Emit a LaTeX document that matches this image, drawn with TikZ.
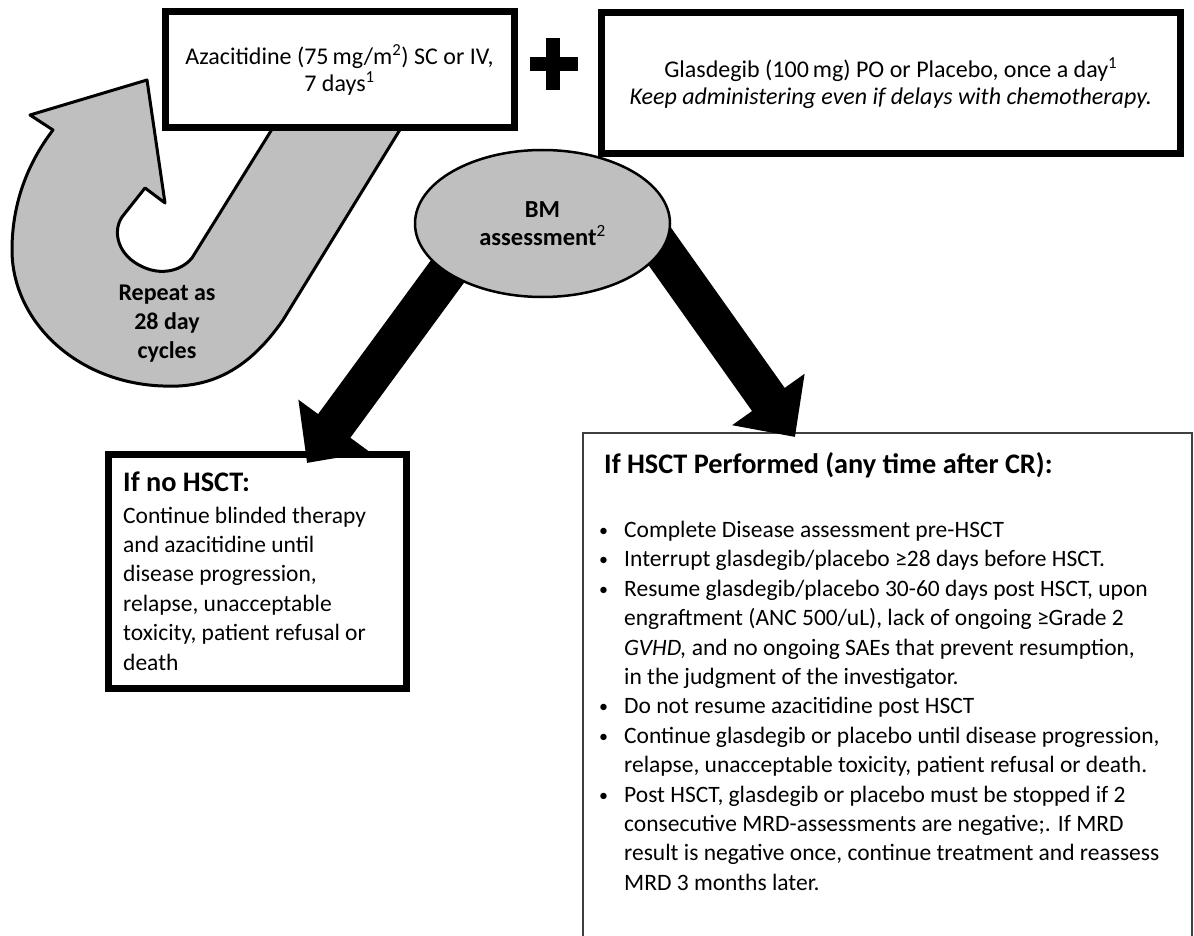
\documentclass[tikz,border=0pt]{standalone}
\usepackage{fontspec}
\setmainfont{Carlito}
\usetikzlibrary{arrows.meta,shapes.geometric,positioning}
\definecolor{cyclegray}{RGB}{191,191,191}
\definecolor{panelline}{RGB}{64,64,64}
\newcommand{\bul}{\llap{\raisebox{1pt}{\fontsize{18}{18}\selectfont\textbullet}\hspace{16pt}}}

\begin{document}
\begin{tikzpicture}[x=1pt,y=-1pt,
    block/.style={rectangle, draw, line width=7pt, fill=white, align=center, inner sep=0pt,
        outer sep=0pt, font=\fontsize{24}{27}\selectfont},
    panel/.style={rectangle, draw, line width=7pt, fill=white, inner sep=0pt, outer sep=0pt},
    txt/.style={align=left, inner sep=0pt, font=\fontsize{23.5}{29.4}\selectfont},
    head/.style={inner sep=0pt, font=\fontsize{28.3}{30}\selectfont\bfseries},
    big/.style={line width=40pt, -{Triangle[width=86pt,length=46pt]}},
    loopfill/.style={fill=cyclegray, draw, line width=3pt, line join=round}
  ]
  \useasboundingbox (0,0) rectangle (1194,936);

  % repeat cycle arrow
  \draw[loopfill] (274,126) -- (401,128) -- (283,320)
    .. controls (245,375) and (205,388) .. (163,386)
    .. controls (75,383) and (12,320) .. (12,250)
    .. controls (12,200) and (30,160) .. (53,130)
    -- (30,115) -- (147,80) -- (165,203) -- (145,188) -- (122,217)
    .. controls (112,232) and (118,256) .. (143,267)
    .. controls (160,275) and (180,272) .. (192,258) -- cycle;
  \node[align=center, inner sep=0pt, font=\fontsize{24}{29}\selectfont\bfseries] (cyclelbl)
    at (167,324) {Repeat as\\28 day\\cycles};

  % treatment
  \node[block, minimum width=349pt, minimum height=116pt] (aza) at (339.5,69.5)
    {Azacitidine (75\,mg/m\textsuperscript{2}) SC or IV,\\ 7 days\textsuperscript{1}};
  \draw[line width=14pt] (530,64) -- (578,64) (553,38) -- (553,90);
  \node[block, minimum width=578.5pt, minimum height=141.5pt] (glas) at (890.75,83.25)
    {Glasdegib (100\,mg) PO or Placebo, once a day\textsuperscript{1}\\
     \textit{Keep administering even if delays with chemotherapy.}};

  % outcomes
  \node[panel, minimum width=298pt, minimum height=234pt] (nohsct) at (257,571) {};
  \node[head, anchor=base west] (nohscthead) at (123,491) {If no HSCT:};
  \node[txt, anchor=north west] (nohscttxt) at (123,506.5)
    {Continue blinded therapy\\ and azacitidine until\\ disease progression,\\
     relapse, unacceptable\\ toxicity, patient refusal or\\ death};

  \node[panel, draw=panelline, line width=2pt, minimum width=609pt, minimum height=527pt]
    (hsct) at (887.5,696.5) {};
  \node[head, anchor=base west] (hscthead) at (604,473) {If HSCT Performed (any time after CR):};
  \node[txt, anchor=north west] (hscttxt) at (624,521)
    {\bul Complete Disease assessment pre-HSCT\\
     \bul Interrupt glasdegib/placebo ≥28 days before HSCT.\\
     \bul Resume glasdegib/placebo 30-60 days post HSCT, upon\\
     engraftment (ANC 500/uL), lack of ongoing ≥Grade 2\\
     \textit{GVHD,} and no ongoing SAEs that prevent resumption,\\
     in the judgment of the investigator.\\
     \bul Do not resume azacitidine post HSCT\\
     \bul Continue glasdegib or placebo until disease progression,\\
     relapse, unacceptable toxicity, patient refusal or death.\\
     \bul Post HSCT, glasdegib or placebo must be stopped if 2\\
     consecutive MRD-assessments are negative;. If MRD\\
     result is negative once, continue treatment and reassess\\
     MRD 3 months later.};

  % assessment
  \coordinate (bmc) at (542.5,223.5);
  \draw[big] ([xshift=-76pt,yshift=-22pt]bmc) -- ([xshift=50pt,yshift=-9pt]nohsct.north);
  \draw[big] ([xshift=96pt,yshift=7pt]bmc) -- ([xshift=212pt,yshift=-4pt]hsct.north west);
  \node[ellipse, draw, fill=cyclegray, line width=2.5pt, minimum width=255pt, minimum height=147pt,
    inner sep=0pt, align=center, font=\fontsize{24.5}{28}\selectfont\bfseries] (bm) at (bmc)
    {BM\\assessment\textsuperscript{\mdseries 2}};
\end{tikzpicture}
\end{document}
